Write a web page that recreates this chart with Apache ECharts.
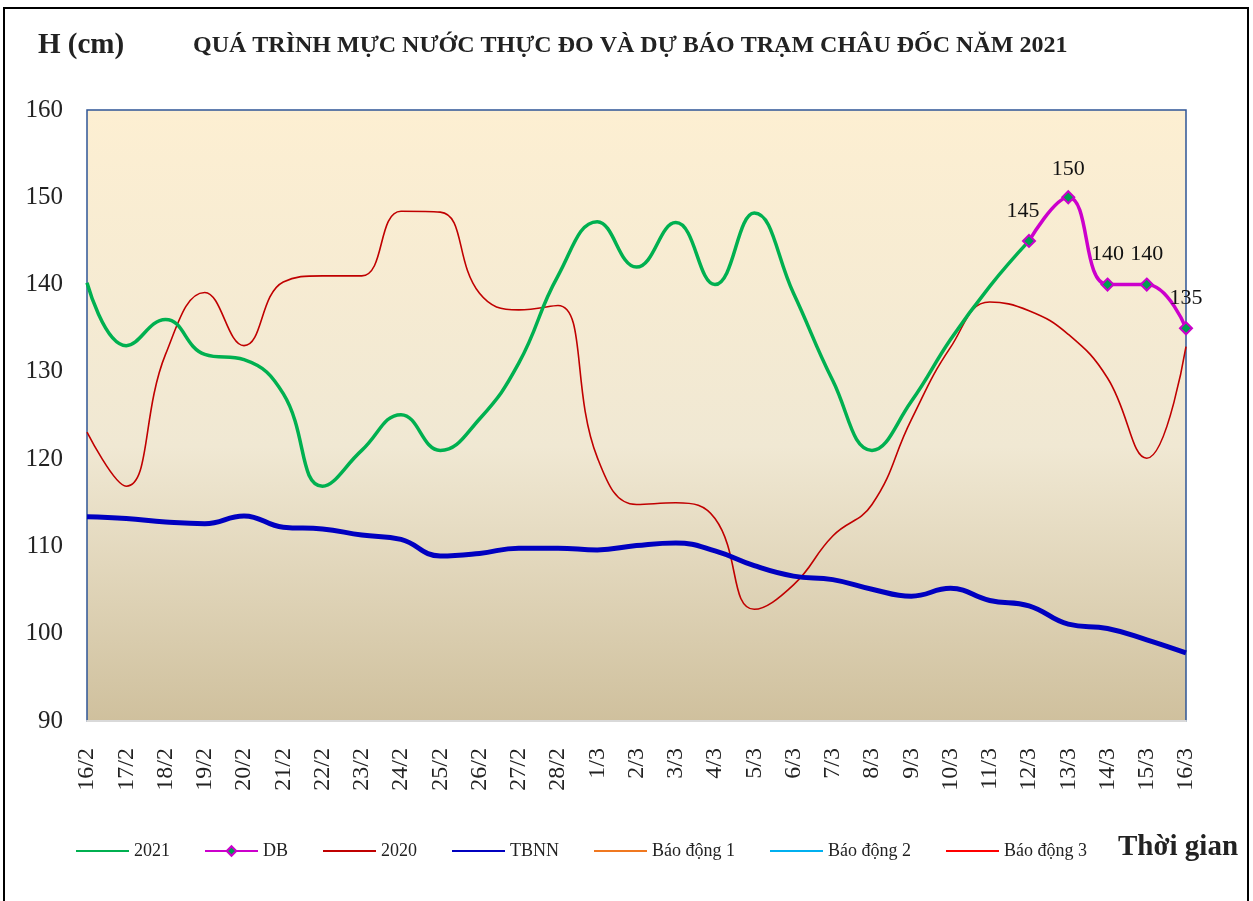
<!DOCTYPE html>
<html>
<head>
<meta charset="utf-8">
<script src="https://cdn.jsdelivr.net/npm/echarts@6/dist/echarts.min.js"></script>
<style>
html,body{margin:0;padding:0;background:#fff;}
#chart{width:1253px;height:901px;}
</style>
</head>
<body>
<div id="chart"></div>
<script>
var categories = ['16/2','17/2','18/2','19/2','20/2','21/2','22/2','23/2','24/2','25/2','26/2','27/2','28/2',
  '1/3','2/3','3/3','4/3','5/3','6/3','7/3','8/3','9/3','10/3','11/3','12/3','13/3','14/3','15/3','16/3'];

var s2021 = [140.2,133,136,132,131.4,127.5,116.9,121,125.1,121,124.6,131,141,
  147.2,142,147.1,140,148.2,139,129,121,126.6,133.7,139.8,145,null,null,null,null];

var sDB = [null,null,null,null,null,null,null,null,null,null,null,null,null,
  null,null,null,null,null,null,null,null,null,null,null,145,150,140,140,135];

var s2020 = [123.1,116.9,132,139.1,133,140.3,141,141,148.4,148.3,139,137.1,137.6,
  120.2,114.8,115,113.2,102.8,105.6,111.2,114.8,124.5,132.8,138,137,134.3,129.3,120.1,132.9];

var sTBNN = [113.4,113.2,112.8,112.6,113.5,112.2,112,111.3,110.8,108.9,109.2,109.8,109.8,
  109.6,110.1,110.4,109.5,107.8,106.6,106.2,105.1,104.3,105.2,103.8,103.2,101.1,100.6,99.3,97.8];

var sBD1 = [];
var sBD2 = [];
var sBD3 = [];

var legendNames = ['2021','DB','2020','TBNN','Báo động 1','Báo động 2','Báo động 3'];

var yTicks = {min: 90, max: 160, interval: 10};

var serif = '"Liberation Serif","DejaVu Serif",serif';

var chart = echarts.init(document.getElementById('chart'));
chart.setOption({
  animation: false,
  backgroundColor: '#ffffff',
  graphic: [
    {type:'rect', z: -10, shape:{x:4, y:8, width:1244, height:900}, style:{fill:'none', stroke:'#000', lineWidth:2}},
    {type:'text', left: 38, top: 31, style:{text:'H (cm)', font:'bold 29px ' + serif, fill:'#222'}},
    {type:'text', left: 193, top: 34, style:{text:'QUÁ TRÌNH MỰC NƯỚC THỰC ĐO VÀ DỰ BÁO TRẠM CHÂU ĐỐC NĂM 2021', font:'bold 24px ' + serif, fill:'#222'}},
    {type:'text', left: 1118, top: 833, style:{text:'Thời gian', font:'bold 29px ' + serif, fill:'#222'}}
  ],
  legend: {
    left: 70,
    top: 837,
    itemWidth: 53,
    itemHeight: 12,
    itemGap: 34,
    textStyle: {fontFamily: serif, fontSize: 18, color: '#222'},
    data: legendNames.map(function(n){
      return n === 'DB' ? {name: n} : {name: n, itemStyle: {opacity: 0}};
    })
  },
  grid: {
    left: 87, right: 67, top: 110, bottom: 180,
    show: true,
    borderColor: '#2F5597',
    borderWidth: 1.5,
    backgroundColor: {
      type: 'linear', x: 0, y: 0, x2: 0, y2: 1,
      colorStops: [{offset: 0, color: '#FDEFD2'}, {offset: 0.55, color: '#F0E8D3'}, {offset: 1, color: '#CFC09D'}]
    }
  },
  xAxis: {
    type: 'category',
    data: categories,
    boundaryGap: false,
    axisLine: {show: true, lineStyle: {color: '#D9D9D9', width: 2}},
    axisTick: {show: false},
    axisLabel: {rotate: 90, margin: 27, fontFamily: serif, fontSize: 24, color: '#222', interval: 0},
    splitLine: {show: false}
  },
  yAxis: {
    type: 'value',
    min: yTicks.min, max: yTicks.max, interval: yTicks.interval,
    axisLine: {show: false},
    axisTick: {show: false},
    axisLabel: {margin: 24, fontFamily: serif, fontSize: 25, color: '#222'},
    splitLine: {show: false}
  },
  series: [
    {name:'2020', type:'line', data:s2020, smooth:0.45, symbol:'none', z:2,
      lineStyle:{color:'#C00000', width:1.6}, itemStyle:{color:'#C00000'}},
    {name:'TBNN', type:'line', data:sTBNN, smooth:0.45, symbol:'none', z:3,
      lineStyle:{color:'#0000C0', width:5}, itemStyle:{color:'#0000C0'}},
    {name:'2021', type:'line', data:s2021, smooth:0.45, symbol:'none', z:4,
      lineStyle:{color:'#00B050', width:3.5}, itemStyle:{color:'#00B050'}},
    {name:'DB', type:'line', data:sDB, smooth:0.45, symbol:'diamond', symbolSize:12, z:5,
      lineStyle:{color:'#CC00CC', width:3.5},
      itemStyle:{color:'#00A050', borderColor:'#CC00CC', borderWidth:2},
      label:{show:true, position:'top', distance:12, fontFamily:serif, fontSize:22, color:'#111'},
      labelLayout: function(p){ if (p.dataIndex === 24) return {dx:-6}; if (p.dataIndex === 25) return {dy:2}; return {}; }
    },
    {name:'Báo động 1', type:'line', data:sBD1, symbol:'none', lineStyle:{color:'#F07820', width:2}, itemStyle:{color:'#F07820'}},
    {name:'Báo động 2', type:'line', data:sBD2, symbol:'none', lineStyle:{color:'#00B0F0', width:2}, itemStyle:{color:'#00B0F0'}},
    {name:'Báo động 3', type:'line', data:sBD3, symbol:'none', lineStyle:{color:'#FF0000', width:2}, itemStyle:{color:'#FF0000'}}
  ]
});
</script>
</body>
</html>
